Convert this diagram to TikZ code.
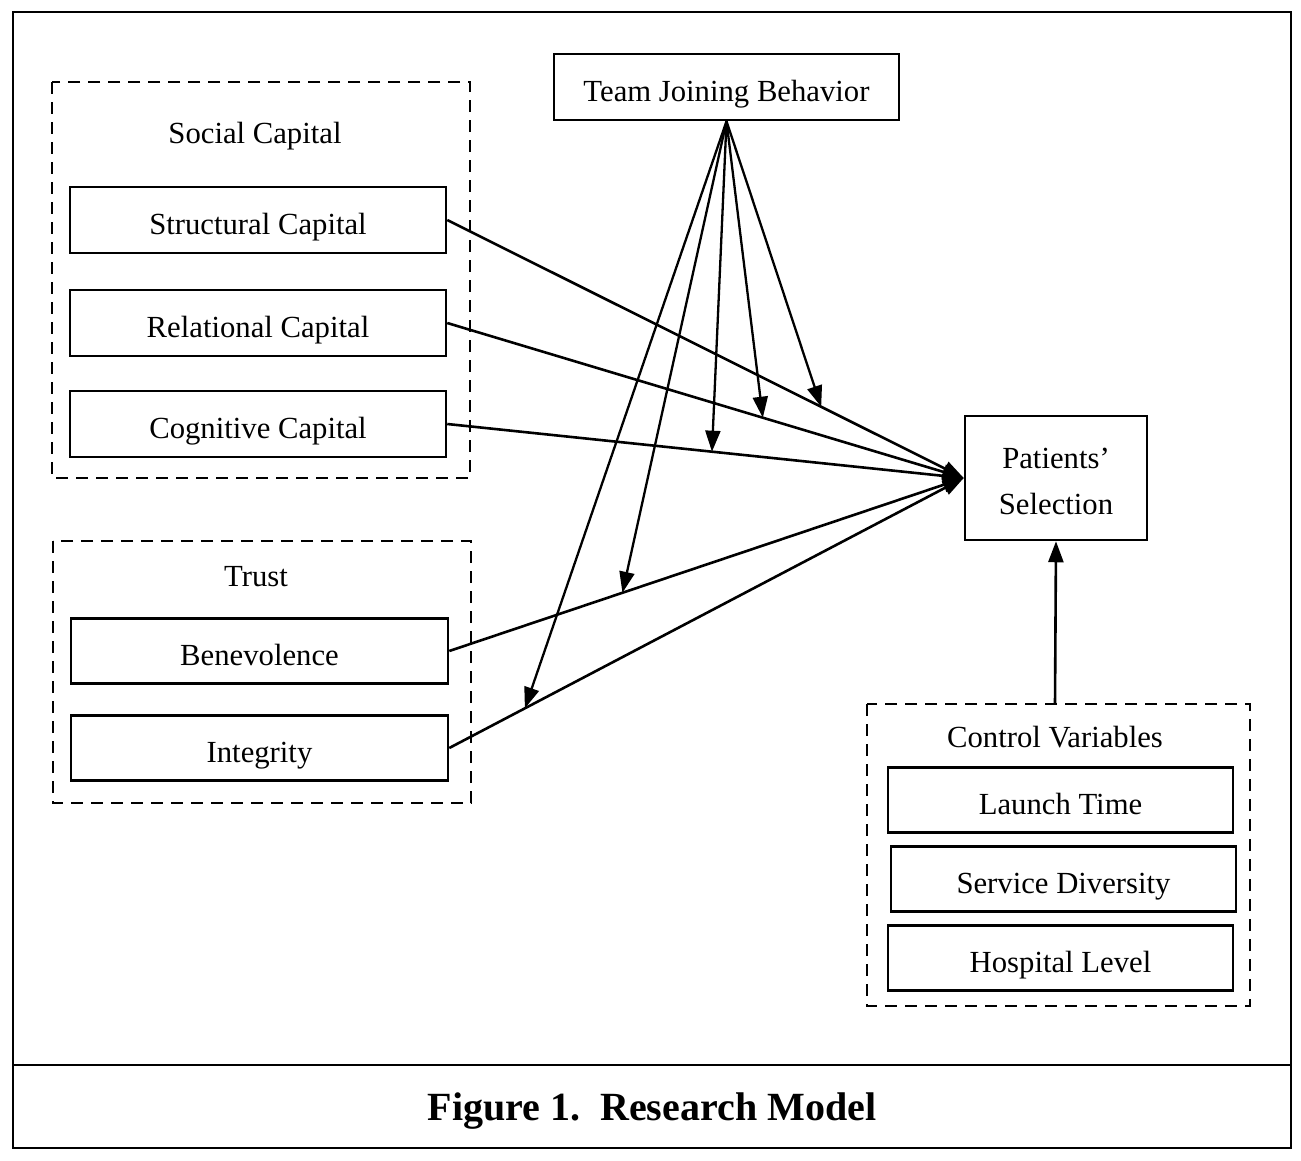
\documentclass[tikz,border=0pt]{standalone}
\usepackage{fontspec}
\setmainfont{Liberation Serif}
\usetikzlibrary{arrows.meta,calc}
\begin{document}
\begin{tikzpicture}[x=1pt,y=-1pt,
  every node/.style={font=\fontsize{30.7}{46}\selectfont},
  box/.style={draw,line width=2.5pt,inner sep=0pt,anchor=center,text height=28.5pt,text depth=0pt},
  dbox/.style={draw,line width=2.5pt,dash pattern=on 12pt off 8pt},
  lbl/.style={inner sep=0pt,anchor=center,text height=20.5pt,text depth=0pt},
  arr/.style={line width=2.6pt,-{Triangle[length=21pt,width=15pt]}},
  marr/.style={line width=2.3pt,-{Triangle[length=21pt,width=15pt]}}]
\useasboundingbox (0,0) rectangle (1301,1160);
% frame
\draw[line width=1.5pt] (13,12) rectangle (1291,1148);
\draw[line width=1.5pt] (13,1065) -- (1291,1065);
\node[lbl,font=\fontsize{40}{48}\selectfont\bfseries,text height=27pt] (cap) at (652,1107) {Figure 1.\ \ Research Model};
% social capital
\draw[dbox] (52,82) rectangle (470,478);
\node[lbl] (sclbl) at (255,133) {Social Capital};
\node[box,minimum width=376pt,minimum height=66pt] (sc) at (258,220) {Structural Capital};
\node[box,minimum width=376pt,minimum height=66pt] (rc) at (258,323) {Relational Capital};
\node[box,minimum width=376pt,minimum height=66pt] (cc) at (258,424) {Cognitive Capital};
% trust
\draw[dbox] (53,541) rectangle (471,803);
\node[lbl] (trlbl) at (256,576) {Trust};
\node[box,minimum width=377pt,minimum height=65pt] (bn) at (259.5,651) {Benevolence};
\node[box,minimum width=377pt,minimum height=65pt] (ig) at (259.5,748) {Integrity};
% team joining
\node[box,minimum width=345pt,minimum height=66pt] (tjb) at (726.5,87) {Team Joining Behavior};
% patients
\node[draw,line width=2.5pt,inner sep=0pt,minimum width=182pt,minimum height=124pt] (ps) at (1056,478) {\raisebox{-10.7pt}[0pt][0pt]{\begin{tabular}{@{}c@{}}Patients’\\Selection\end{tabular}}};
% control
\draw[dbox] (867,704) rectangle (1250,1006);
\node[lbl] (cvlbl) at (1055,737) {Control Variables};
\node[box,minimum width=345pt,minimum height=65pt] (lt) at (1060.5,800) {Launch Time};
\node[box,minimum width=345pt,minimum height=65pt] (sd) at (1063.5,879) {Service Diversity};
\node[box,minimum width=345pt,minimum height=65pt] (hl) at (1060.5,958) {Hospital Level};
\coordinate (cvtop) at (1055,704);
% main arrows
\draw[arr] (sc.east) -- (ps.west);
\draw[arr] (rc.east) -- (ps.west);
\draw[arr] (cc.east) -- (ps.west);
\draw[arr] (bn.east) -- (ps.west);
\draw[arr] (ig.east) -- (ps.west);
\draw[arr] (cvtop) -- (ps.south);
% moderation
\coordinate (m1) at ($(sc.east)!0.724!(ps.west)$);
\coordinate (m2) at ($(rc.east)!0.611!(ps.west)$);
\coordinate (m3) at ($(cc.east)!0.5125!(ps.west)$);
\coordinate (m4) at ($(bn.east)!0.3366!(ps.west)$);
\coordinate (m5) at ($(ig.east)!0.147!(ps.west)$);
\foreach \m in {m1,m2,m3,m4,m5} \draw[marr] (tjb.south) -- (\m);
\end{tikzpicture}
\end{document}
